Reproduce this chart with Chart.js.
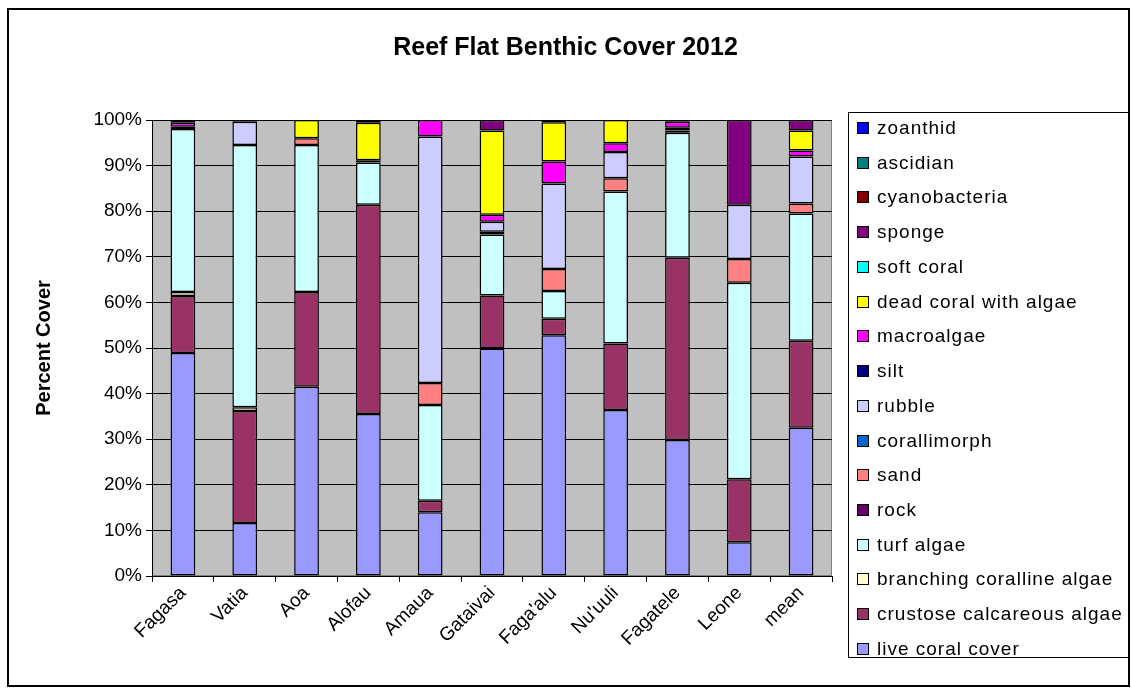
<!DOCTYPE html>
<html>
<head>
<meta charset="utf-8">
<script src="https://cdn.jsdelivr.net/npm/chart.js@4.4.1/dist/chart.umd.min.js"></script>
<style>
  html, body { margin: 0; padding: 0; background: #fff; }
  #wrap { width: 1131px; height: 691px; }
</style>
</head>
<body>
<div id="wrap"><canvas id="reefChart" width="1131" height="691"></canvas></div>
<script>
const sites = ['Fagasa', 'Vatia', 'Aoa', 'Alofau', 'Amaua', 'Gataivai', "Faga'alu", "Nu'uuli", 'Fagatele', 'Leone', 'mean'];

// percent cover per site, bottom of the stack first
const liveCoral     = [48.9, 11.6, 41.5, 35.5, 14.0, 49.9, 52.8, 36.4, 29.8, 7.4, 32.5];
const crustoseAlgae = [12.5, 24.6, 20.8, 45.9, 2.5, 11.6, 3.6, 14.6, 40.0, 13.8, 19.1];
const branchingAlg  = [0.9, 0.8, 0, 0, 0, 0, 0, 0, 0, 0, 0];
const turfAlgae     = [35.7, 57.5, 32.2, 9.3, 21.0, 13.4, 6.1, 33.3, 27.4, 43.1, 27.9];
const rock          = [0.5, 0, 0, 0.5, 0, 0.6, 0, 0, 0.5, 0, 0];
const sand          = [0, 0, 1.5, 0, 4.8, 0, 4.8, 2.9, 0.6, 5.2, 2.2];
const corallimorph  = [0, 0, 0, 0, 0, 0, 0, 0, 0, 0, 0];
const rubble        = [0, 5.1, 0, 0, 54.1, 2.2, 18.8, 5.8, 0, 11.9, 10.3];
const silt          = [0, 0, 0, 0, 0, 0, 0, 0, 0, 0, 0];
const macroalgae    = [0.9, 0, 0, 0, 3.6, 1.5, 4.8, 1.9, 1.3, 0, 1.3];
const deadCoral     = [0, 0, 4.0, 8.2, 0, 18.5, 8.6, 5.1, 0, 0, 4.4];
const softCoral     = [0, 0, 0, 0, 0, 0, 0, 0, 0, 0, 0];
const sponge        = [0.6, 0.4, 0, 0.6, 0, 2.3, 0.5, 0, 0.4, 18.6, 2.3];
const cyanobacteria = [0, 0, 0, 0, 0, 0, 0, 0, 0, 0, 0];
const ascidian      = [0, 0, 0, 0, 0, 0, 0, 0, 0, 0, 0];
const zoanthid      = [0, 0, 0, 0, 0, 0, 0, 0, 0, 0, 0];

const yTicks = [0, 10, 20, 30, 40, 50, 60, 70, 80, 90, 100];

const FONT = '"Liberation Sans", Arial, sans-serif';

function series(label, data, color) {
    return {
        label: label,
        data: data,
        backgroundColor: color,
        borderColor: '#000000',
        borderWidth: 1.5,
        borderSkipped: false,
        categoryPercentage: 1,
        barPercentage: 0.4
    };
}

// grey plot area + outer frame
const backdrop = {
    id: 'backdrop',
    beforeDraw(chart) {
        const {ctx, chartArea: a} = chart;
        ctx.save();
        ctx.fillStyle = '#ffffff';
        ctx.fillRect(0, 0, chart.width, chart.height);
        ctx.fillStyle = '#c0c0c0';
        ctx.fillRect(a.left, a.top, a.right - a.left, a.bottom - a.top);
        ctx.strokeStyle = '#808080';
        ctx.lineWidth = 1;
        ctx.strokeRect(a.left + 0.5, a.top + 0.5, a.right - a.left - 1, a.bottom - a.top - 1);
        ctx.strokeStyle = '#000000';
        ctx.lineWidth = 2;
        ctx.strokeRect(8, 9, 1121, 677);
        ctx.restore();
    }
};

// Excel style legend box on the right, top entry = last dataset
const sideLegend = {
    id: 'sideLegend',
    afterDraw(chart) {
        const ctx = chart.ctx;
        ctx.save();
        ctx.strokeStyle = '#000000';
        ctx.lineWidth = 1;
        ctx.strokeRect(848.5, 112.5, 280, 545);
        ctx.font = '19px ' + FONT;
        ctx.letterSpacing = '1px';
        ctx.textBaseline = 'middle';
        ctx.textAlign = 'left';
        chart.data.datasets.slice().reverse().forEach((d, i) => {
            const y = Math.round(128 + i * 34.73);
            ctx.fillStyle = d.backgroundColor;
            ctx.fillRect(857.5, y - 5.5, 11, 11);
            ctx.strokeRect(857.5, y - 5.5, 11, 11);
            ctx.fillStyle = '#000000';
            ctx.fillText(d.label, 877, y + 1);
        });
        ctx.restore();
    }
};

new Chart('reefChart', {
    type: 'bar',
    data: {
        labels: sites,
        datasets: [
            series('live coral cover', liveCoral, '#9999ff'),
            series('crustose calcareous algae', crustoseAlgae, '#993366'),
            series('branching coralline algae', branchingAlg, '#ffffcc'),
            series('turf algae', turfAlgae, '#ccffff'),
            series('rock', rock, '#660066'),
            series('sand', sand, '#ff8080'),
            series('corallimorph', corallimorph, '#0066cc'),
            series('rubble', rubble, '#ccccff'),
            series('silt', silt, '#000080'),
            series('macroalgae', macroalgae, '#ff00ff'),
            series('dead coral with algae', deadCoral, '#ffff00'),
            series('soft coral', softCoral, '#00ffff'),
            series('sponge', sponge, '#800080'),
            series('cyanobacteria', cyanobacteria, '#800000'),
            series('ascidian', ascidian, '#008080'),
            series('zoanthid', zoanthid, '#0000ff')
        ]
    },
    options: {
        responsive: false,
        maintainAspectRatio: false,
        animation: false,
        layout: { padding: 0 },
        plugins: {
            legend: { display: false },
            tooltip: { enabled: false },
            title: {
                display: true,
                text: 'Reef Flat Benthic Cover 2012',
                color: '#000000',
                font: { family: FONT, size: 25, weight: 'bold' },
                padding: { top: 33, bottom: 57 }
            }
        },
        scales: {
            x: {
                stacked: true,
                grid: {
                    display: true,
                    drawOnChartArea: false,
                    color: '#000000',
                    tickLength: 6,
                    offset: true
                },
                border: { display: true, color: '#000000', width: 1 },
                ticks: {
                    color: '#000000',
                    font: { family: FONT, size: 19 },
                    minRotation: 45,
                    maxRotation: 45,
                    padding: 0
                },
                afterFit(scale) { scale.height = 115; }
            },
            y: {
                stacked: true,
                min: 0,
                max: 100,
                afterBuildTicks(scale) { scale.ticks = yTicks.map(v => ({value: v})); },
                grid: { color: '#000000', tickLength: 6 },
                border: { display: true, color: '#000000', width: 1 },
                ticks: {
                    color: '#000000',
                    font: { family: FONT, size: 19 },
                    padding: 4,
                    callback: v => v + '%'
                },
                title: {
                    display: true,
                    text: 'Percent Cover',
                    color: '#000000',
                    font: { family: FONT, size: 20, weight: 'bold' },
                    padding: { top: 32, bottom: 0 }
                },
                afterFit(scale) { scale.width = 152; }
            },
            spacer: {
                // empty axis that keeps room on the right for the legend box
                position: 'right',
                display: true,
                grid: { display: false },
                border: { display: false },
                ticks: { display: false },
                afterFit(scale) { scale.width = 299; }
            }
        }
    },
    plugins: [backdrop, sideLegend]
});
</script>
</body>
</html>
